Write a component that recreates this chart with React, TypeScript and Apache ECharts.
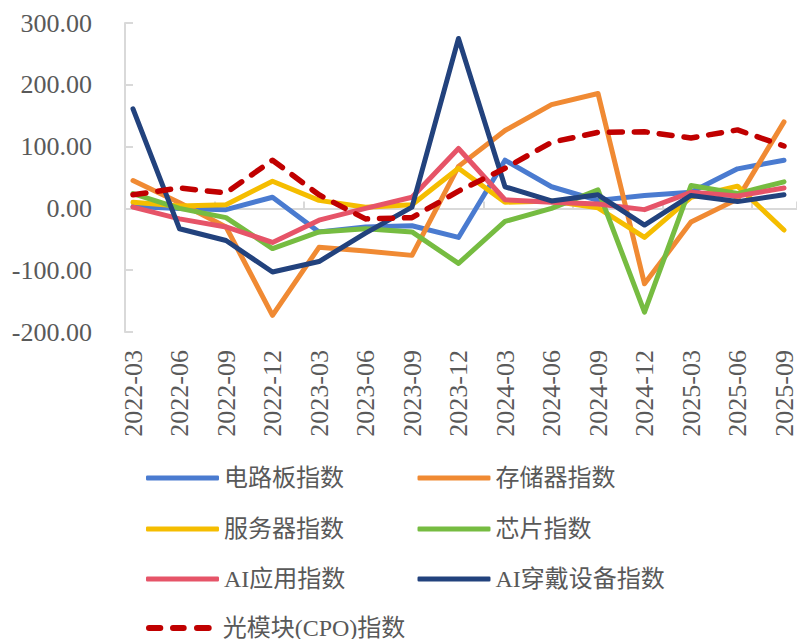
import React, { useEffect, useRef } from 'react';
import * as echarts from 'echarts';

const categories = [
  '2022-03', '2022-06', '2022-09', '2022-12', '2023-03', '2023-06', '2023-09', '2023-12',
  '2024-03', '2024-06', '2024-09', '2024-12', '2025-03', '2025-06', '2025-09',
];
const yTicks = [-200, -100, 0, 100, 200, 300];

const seriesNames = ['电路板指数', '存储器指数', '服务器指数', '芯片指数', 'AI应用指数', 'AI穿戴设备指数', '光模块(CPO)指数'];
const pcb = [3, 0, -2, 18, -38, -30, -28, -47, 78, 35, 13, 21, 26, 64, 78];
const memory = [45, 9, -30, -173, -63, -69, -76, 68, 126, 168, 186, -122, -22, 15, 140];
const server = [10, 4, 6, 44, 13, 2, 6, 65, 10, 12, 1, -47, 18, 36, -35];
const chip = [24, 0, -15, -65, -38, -33, -38, -89, -21, 0, 30, -168, 37, 24, 43];
const aiApp = [2, -17, -30, -55, -19, 0, 18, 97, 14, 10, 7, -2, 26, 20, 33];
const aiWear = [161, -33, -52, -103, -86, -40, 2, 275, 35, 12, 22, -27, 21, 11, 22];
const cpo = [22, 33, 25, 78, 22, -17, -15, 28, 65, 107, 123, 124, 114, 127, 101];

const colors = ['#4A7BD0', '#F08A33', '#F5BD00', '#76BC41', '#E65468', '#22427D', '#C00000'];

function roundDash(x0: number, x1: number, h: number) {
  const r = h / 2;
  return `M${x0 + r} 0H${x1 - r}A${r} ${r} 0 0 1 ${x1 - r} ${h}H${x0 + r}A${r} ${r} 0 0 1 ${x0 + r} 0Z`;
}

export default function App() {
  const ref = useRef<HTMLDivElement>(null);
  useEffect(() => {
    const chart = echarts.init(ref.current!, null, { renderer: 'svg' });
    const font = "'Liberation Serif', 'Noto Sans CJK SC', serif";
    const textColor = '#595959';
    const axisGray = '#d9d9d9';
    const values = [pcb, memory, server, chip, aiApp, aiWear, cpo];
    const yMin = yTicks[0];
    const yMax = yTicks[yTicks.length - 1];
    const yInt = yTicks[1] - yTicks[0];
    const series = seriesNames.map((name, i) => {
      const dashed = i === 6;
      return {
        name,
        type: 'line',
        xAxisIndex: 0,
        yAxisIndex: 0,
        data: values[i],
        symbol: 'none',
        showSymbol: false,
        lineStyle: {
          color: colors[i],
          width: dashed ? 5.5 : 5,
          type: dashed ? [13, 12] : 'solid',
          cap: 'round',
          join: 'round',
        },
        itemStyle: { color: colors[i] },
        z: 2 + i,
      };
    });
    const legendText = { fontSize: 24, fontFamily: font, color: textColor };
    const dashIcon =
      'path://' + roundDash(0, 17.3, 6) + roundDash(24, 40.7, 6) + roundDash(48, 65.7, 6);
    const colLeft = [146, 417.5];
    const rowTop = [466, 517, 567, 616];
    const legends = seriesNames.map((name, i) => {
      const dashed = i === 6;
      return {
        orient: 'horizontal',
        padding: 0,
        left: colLeft[i % 2],
        top: rowTop[Math.floor(i / 2)],
        itemWidth: dashed ? 65.7 : 73,
        itemHeight: dashed ? 6 : 5,
        icon: dashed ? dashIcon : 'roundRect',
        data: [name],
        textStyle: dashed ? { ...legendText, padding: [0, 0, 0, 6] } : legendText,
      };
    });
    chart.setOption({
      animation: false,
      grid: [
        { left: 133, right: 8, top: 23, bottom: 307 },
        { left: 125, width: 703, top: 23, bottom: 307 },
      ],
      xAxis: [
        {
          gridIndex: 0,
          type: 'category',
          data: categories,
          boundaryGap: false,
          axisLine: { show: false, onZero: false },
          axisTick: { show: false },
          axisLabel: { rotate: 90, margin: 18, fontSize: 26, fontFamily: font, color: textColor, interval: 0 },
        },
        {
          gridIndex: 1,
          type: 'category',
          data: categories,
          boundaryGap: true,
          axisLine: { show: true, onZero: true, lineStyle: { color: axisGray, width: 2 } },
          axisTick: { show: true, inside: true, length: 7, lineStyle: { color: axisGray, width: 2 } },
          axisLabel: { show: false },
        },
      ],
      yAxis: [
        { gridIndex: 0, type: 'value', min: yMin, max: yMax, interval: yInt, show: false },
        {
          gridIndex: 1,
          type: 'value',
          min: yMin,
          max: yMax,
          interval: yInt,
          axisLine: { show: true, lineStyle: { color: axisGray, width: 2 } },
          axisTick: { show: true, inside: true, length: 8, lineStyle: { color: axisGray, width: 2 } },
          splitLine: { show: false },
          axisLabel: {
            margin: 33,
            fontSize: 26,
            fontFamily: font,
            color: textColor,
            formatter: (v: number) => v.toFixed(2),
          },
        },
      ],
      legend: legends,
      series,
    });
    return () => chart.dispose();
  }, []);
  return (
    <div
      ref={ref}
      style={{ position: 'absolute', left: 0, top: 0, width: 797, height: 639, background: '#fff' }}
    />
  );
}
